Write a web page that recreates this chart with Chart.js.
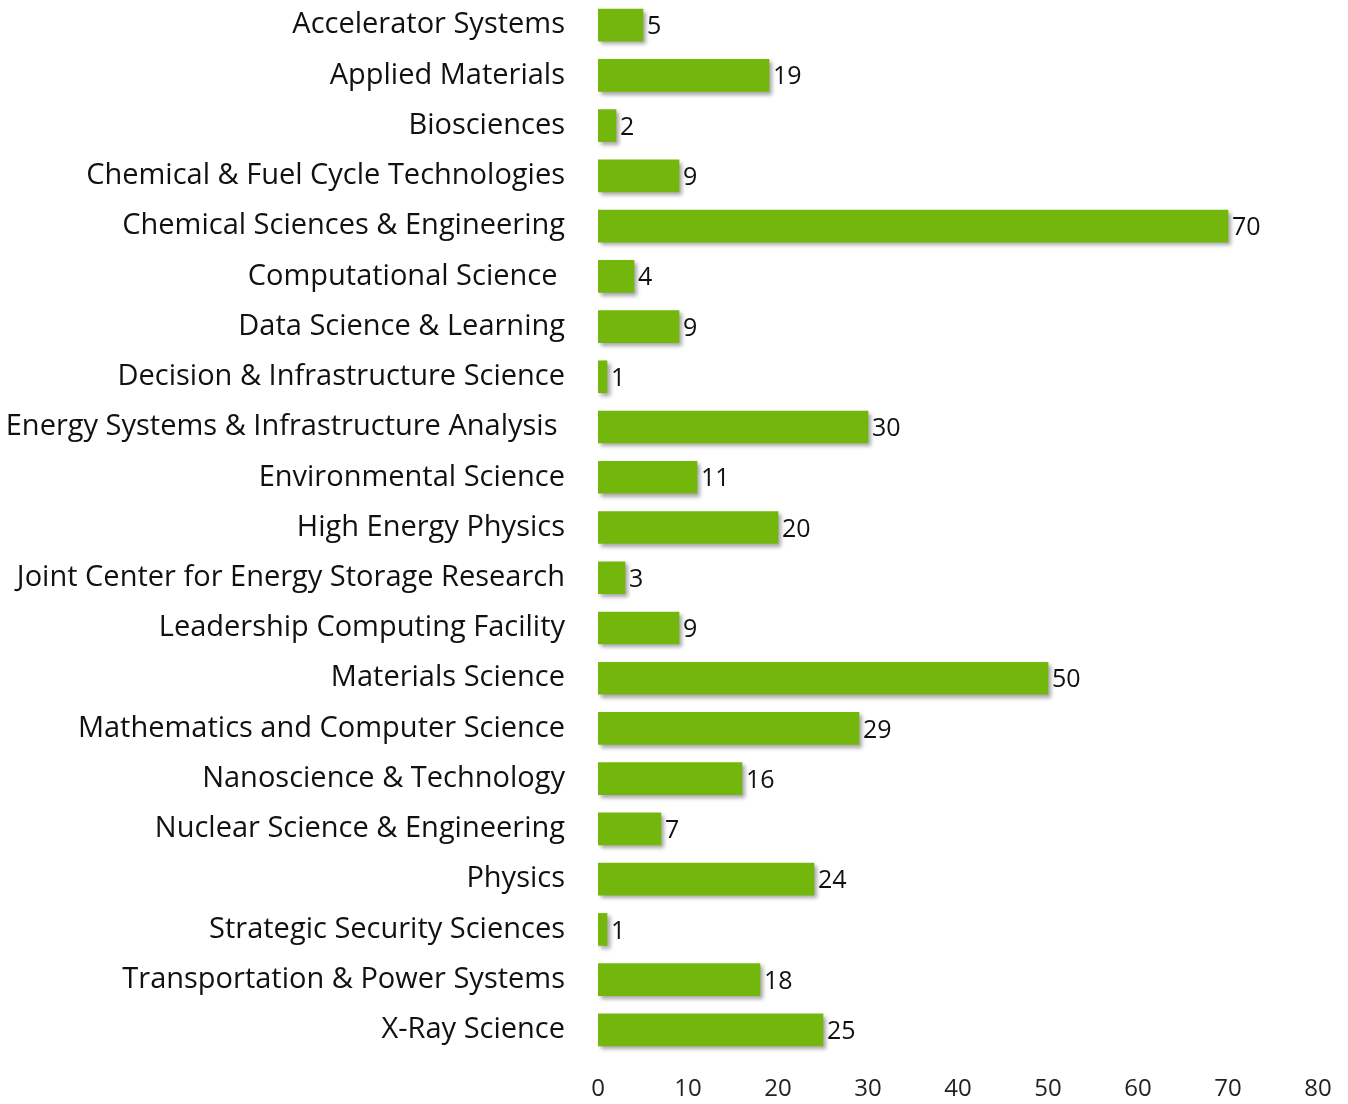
<!DOCTYPE html>
<html>
<head>
<meta charset="utf-8">
<script src="https://cdn.jsdelivr.net/npm/chart.js@4"></script>
<style>
  html, body { margin: 0; padding: 0; background: #fff; }
  #wrap { width: 1348px; height: 1104px; }
</style>
</head>
<body>
<div id="wrap"><canvas id="myChart" width="1348" height="1104"></canvas></div>
<script>
const categories = [
    'Accelerator Systems',
    'Applied Materials',
    'Biosciences',
    'Chemical & Fuel Cycle Technologies',
    'Chemical Sciences & Engineering',
    'Computational Science ',
    'Data Science & Learning',
    'Decision & Infrastructure Science',
    'Energy Systems & Infrastructure Analysis ',
    'Environmental Science',
    'High Energy Physics',
    'Joint Center for Energy Storage Research',
    'Leadership Computing Facility',
    'Materials Science',
    'Mathematics and Computer Science',
    'Nanoscience & Technology',
    'Nuclear Science & Engineering',
    'Physics',
    'Strategic Security Sciences',
    'Transportation & Power Systems',
    'X-Ray Science'
];
const counts = [5, 19, 2, 9, 70, 4, 9, 1, 30, 11, 20, 3, 9, 50, 29, 16, 7, 24, 1, 18, 25];
const xTicks = [0, 10, 20, 30, 40, 50, 60, 70, 80];

const fontFamily = '"Open Sans", sans-serif';

// shadow under the bars
const barShadow = {
    id: 'barShadow',
    beforeDatasetsDraw(chart) {
        const ctx = chart.ctx;
        ctx.save();
        ctx.shadowColor = 'rgba(0,0,0,0.35)';
        ctx.shadowOffsetX = 3;
        ctx.shadowOffsetY = 3;
        ctx.shadowBlur = 4;
    },
    afterDatasetsDraw(chart) {
        chart.ctx.restore();
    }
};

// value labels at the end of each bar
const valueLabels = {
    id: 'valueLabels',
    afterDraw(chart) {
        const ctx = chart.ctx;
        const meta = chart.getDatasetMeta(0);
        ctx.save();
        ctx.font = '25px ' + fontFamily;
        ctx.fillStyle = '#111';
        ctx.textAlign = 'left';
        ctx.textBaseline = 'middle';
        meta.data.forEach((bar, i) => {
            ctx.fillText(String(counts[i]), bar.x + 4, bar.y + 2);
        });
        ctx.restore();
    }
};

const ctx = document.getElementById('myChart').getContext('2d');
const myChart = new Chart(ctx, {
    type: 'bar',
    data: {
        labels: categories,
        datasets: [{
            data: counts,
            backgroundColor: '#74b70c',
            borderWidth: 0,
            barThickness: 32
        }]
    },
    options: {
        indexAxis: 'y',
        responsive: false,
        animation: false,
        layout: { autoPadding: false, padding: { top: 0, right: 30, bottom: 0, left: 0 } },
        plugins: {
            legend: { display: false },
            tooltip: { enabled: false }
        },
        scales: {
            x: {
                min: 0,
                max: 80,
                afterBuildTicks(scale) {
                    scale.ticks = xTicks.map(v => ({ value: v }));
                },
                grid: { display: false, drawTicks: false },
                border: { display: false },
                ticks: {
                    color: '#222',
                    padding: 20,
                    maxRotation: 0,
                    font: { family: fontFamily, size: 24 }
                },
                afterFit(scale) {
                    scale.height = 49;
                    scale.paddingLeft = 0;
                    scale.paddingRight = 0;
                }
            },
            y: {
                grid: { display: false, drawTicks: false },
                border: { display: false },
                ticks: {
                    color: '#111',
                    padding: 33,
                    font: { family: fontFamily, size: 29 }
                },
                afterFit(scale) {
                    scale.width = 598;
                    scale.paddingTop = 0;
                    scale.paddingBottom = 0;
                }
            }
        }
    },
    plugins: [barShadow, valueLabels]
});
</script>
</body>
</html>
